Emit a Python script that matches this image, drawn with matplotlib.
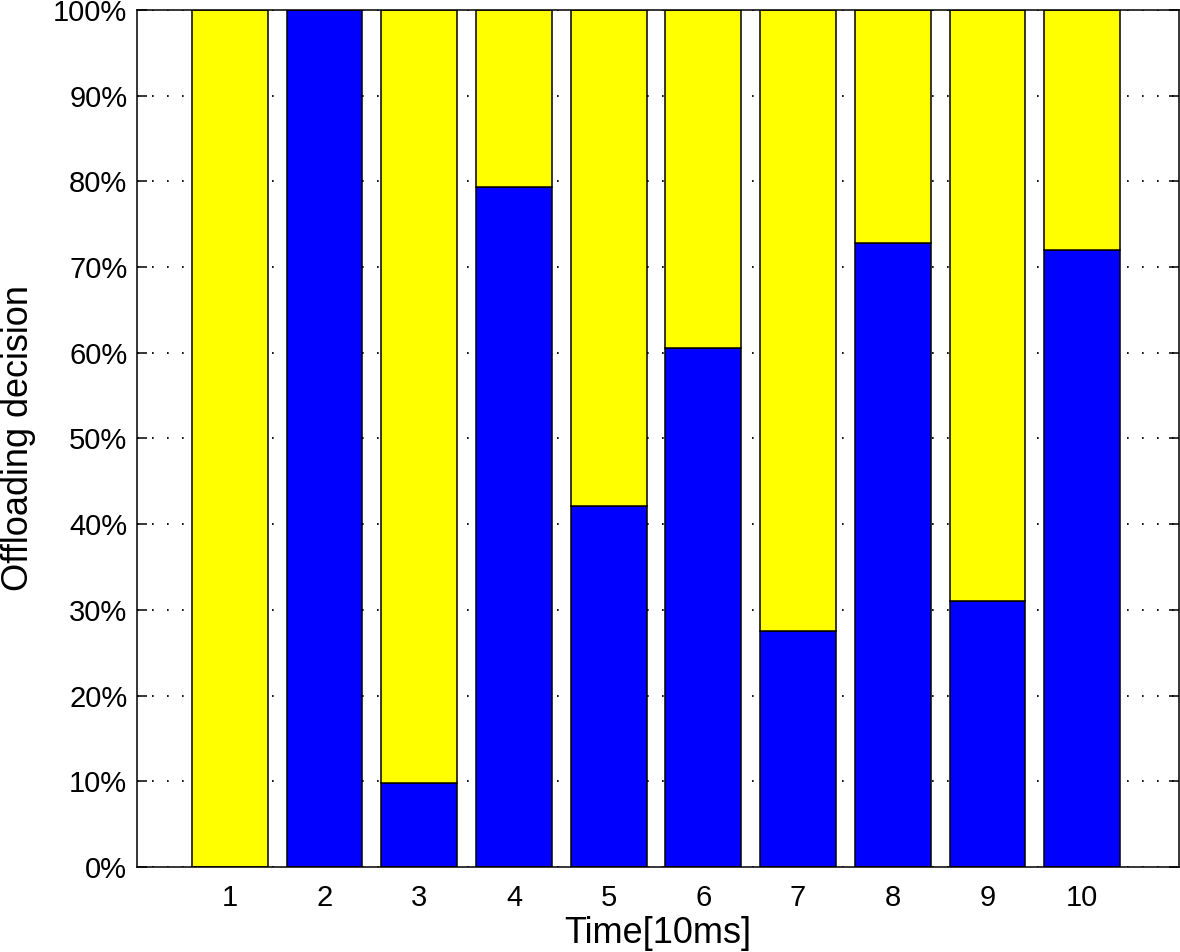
import matplotlib
matplotlib.use('Agg')
import matplotlib.pyplot as plt
from matplotlib.ticker import FuncFormatter

# Offloading share per time slot (blue = offloaded, yellow = rest)
time_slots = [1, 2, 3, 4, 5, 6, 7, 8, 9, 10]
offloaded = [0, 100, 9.8, 79.4, 42.1, 60.6, 27.5, 72.8, 31.0, 72.0]
local = [100 - v for v in offloaded]

plt.rcParams['font.family'] = ['Liberation Sans', 'DejaVu Sans']
plt.rcParams['lines.scale_dashes'] = False

fig = plt.figure(figsize=(11.8, 9.52), dpi=100)
ax = fig.add_axes([0.1161, 0.0893, 0.8829, 0.9002])

ax.bar(time_slots, offloaded, width=0.8, color='#0000ff', edgecolor='black', linewidth=1.1)
ax.bar(time_slots, local, width=0.8, bottom=offloaded, color='#ffff00', edgecolor='black', linewidth=1.1)

ax.set_xlim(0.02, 11.02)
ax.set_ylim(0, 100)
ax.set_xticks(time_slots)
ax.set_yticks(range(0, 101, 10))
ax.yaxis.set_major_formatter(FuncFormatter(lambda v, p: '%d%%' % v))

ax.set_axisbelow(True)
ax.yaxis.grid(True, color='black', linestyle=(0, (1.2, 9.6)), linewidth=1.3)
ax.tick_params(direction='in', length=7, width=1.1, right=True, top=True, labelsize=21)
ax.tick_params(axis='x', pad=12)
ax.tick_params(axis='y', pad=7)
for s in ax.spines.values():
    s.set_linewidth(1.1)

ax.set_xlabel('Time[10ms]', fontsize=26, labelpad=3)
ax.set_ylabel('Offloading decision', fontsize=26, labelpad=12)

fig.savefig('out.png', dpi=100)
